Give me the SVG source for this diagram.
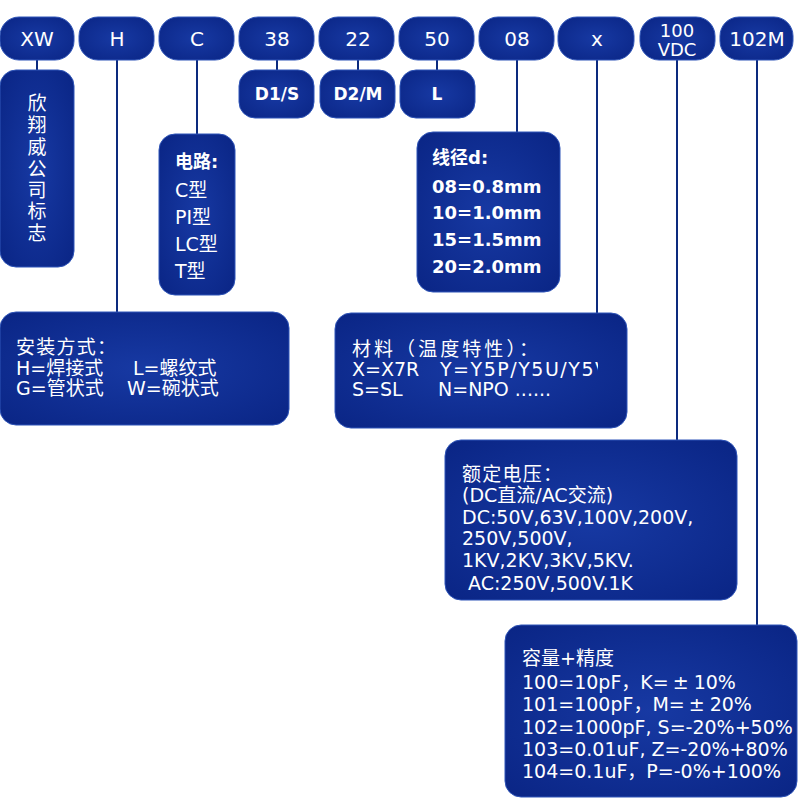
<svg xmlns="http://www.w3.org/2000/svg" width="800" height="800" viewBox="0 0 800 800">
<defs>
<radialGradient id="g" cx="50%" cy="50%" r="70%">
<stop offset="0" stop-color="#1739a3"/>
<stop offset="1" stop-color="#0a2585"/>
</radialGradient>
<clipPath id="clipY"><rect x="330" y="350" width="268" height="30"/></clipPath>
</defs>
<style>
.b{fill:url(#g);stroke:#2f55b8;stroke-width:1}
.t{fill:#fff;font-family:"DejaVu Sans","Noto Sans CJK SC",sans-serif}
.h{font-size:20px;text-anchor:middle}
.s{font-size:17px;font-weight:bold;text-anchor:middle}
.m{font-size:19px}
.bd{font-size:18px;font-weight:bold}
.c line{stroke:#0c2a7e;stroke-width:2}
</style>
<rect width="800" height="800" fill="#fff"/>
<g class="c">
<line x1="37" y1="60" x2="37" y2="70"/>
<line x1="117" y1="60" x2="117" y2="313"/>
<line x1="197" y1="60" x2="197" y2="134"/>
<line x1="277" y1="60" x2="277" y2="70"/>
<line x1="358" y1="60" x2="358" y2="70"/>
<line x1="437" y1="60" x2="437" y2="70"/>
<line x1="517" y1="60" x2="517" y2="132"/>
<line x1="597" y1="60" x2="597" y2="313"/>
<line x1="677" y1="60" x2="677" y2="440"/>
<line x1="757" y1="60" x2="757" y2="625"/>
</g>
<g id="n-xw"><rect class="b" x="0" y="17" width="74" height="43" rx="19"/><text class="t h" x="37" y="46">XW</text></g>
<g id="n-h"><rect class="b" x="79" y="17" width="75" height="43" rx="19"/><text class="t h" x="117" y="46">H</text></g>
<g id="n-c"><rect class="b" x="159" y="17" width="75" height="43" rx="19"/><text class="t h" x="197" y="46">C</text></g>
<g id="n-38"><rect class="b" x="239" y="17" width="75" height="43" rx="19"/><text class="t h" x="277" y="46">38</text></g>
<g id="n-22"><rect class="b" x="319" y="17" width="75" height="43" rx="19"/><text class="t h" x="358" y="46">22</text></g>
<g id="n-50"><rect class="b" x="399" y="17" width="75" height="43" rx="19"/><text class="t h" x="437" y="46">50</text></g>
<g id="n-08"><rect class="b" x="479" y="17" width="75" height="43" rx="19"/><text class="t h" x="517" y="46">08</text></g>
<g id="n-x"><rect class="b" x="558" y="17" width="76" height="43" rx="19"/><text class="t h" x="597" y="46">x</text></g>
<g id="n-vdc"><rect class="b" x="640" y="17" width="75" height="43" rx="19"/><text class="t" x="677" y="37" font-size="18" text-anchor="middle">100</text><text class="t" x="677" y="56" font-size="18" text-anchor="middle">VDC</text></g>
<g id="n-102m"><rect class="b" x="720" y="17" width="73" height="43" rx="19"/><text class="t h" x="757" y="46">102M</text></g>

<g id="n-d1s"><rect class="b" x="239" y="70" width="75" height="48" rx="16"/><text class="t s" x="277" y="100">D1/S</text></g>
<g id="n-d2m"><rect class="b" x="320" y="70" width="75" height="48" rx="16"/><text class="t s" x="358" y="100">D2/M</text></g>
<g id="n-l"><rect class="b" x="400" y="70" width="75" height="48" rx="16"/><text class="t s" x="437" y="100">L</text></g>

<g id="n-logo"><rect class="b" x="0" y="70" width="74" height="197" rx="16"/>
<text class="t m" text-anchor="middle"><tspan x="37" y="110">欣</tspan><tspan x="37" y="132">翔</tspan><tspan x="37" y="154">威</tspan><tspan x="37" y="176">公</tspan><tspan x="37" y="197">司</tspan><tspan x="37" y="218">标</tspan><tspan x="37" y="240">志</tspan></text></g>

<g id="n-circuit"><rect class="b" x="159" y="134" width="76" height="161" rx="16"/>
<text class="t bd" x="175" y="168">电路:</text>
<text class="t m" x="175" y="197">C型</text>
<text class="t m" x="175" y="224">PI型</text>
<text class="t m" x="175" y="251">LC型</text>
<text class="t m" x="175" y="278">T型</text></g>

<g id="n-mount"><rect class="b" x="0" y="312" width="289" height="113" rx="16"/>
<text class="t m" x="16" y="354" textLength="100" lengthAdjust="spacing">安装方式：</text>
<text class="t m" x="16" y="375">H=焊接式</text><text class="t m" x="133" y="375">L=螺纹式</text>
<text class="t m" x="16" y="395">G=管状式</text><text class="t m" x="127" y="395">W=碗状式</text></g>

<g id="n-wire"><rect class="b" x="417" y="132" width="143" height="160" rx="16"/>
<text class="t bd" x="432" y="164">线径d:</text>
<text class="t bd" x="432" y="193">08=0.8mm</text>
<text class="t bd" x="432" y="219">10=1.0mm</text>
<text class="t bd" x="432" y="246">15=1.5mm</text>
<text class="t bd" x="432" y="273">20=2.0mm</text></g>

<g id="n-material"><rect class="b" x="335" y="313" width="292" height="115" rx="16"/>
<text class="t m" x="352" y="356" textLength="186" lengthAdjust="spacing">材料（温度特性）：</text>
<text class="t m" x="352" y="376">X=X7R</text><text class="t m" x="440" y="376" clip-path="url(#clipY)" textLength="168" lengthAdjust="spacing">Y=Y5P/Y5U/Y5V</text>
<text class="t m" x="352" y="396">S=SL</text><text class="t m" x="438" y="396">N=NPO ......</text></g>

<g id="n-voltage"><rect class="b" x="445" y="440" width="292" height="160" rx="16"/>
<text class="t m" x="462" y="481" textLength="100" lengthAdjust="spacing">额定电压：</text>
<text class="t m" x="462" y="502">(DC直流/AC交流)</text>
<text class="t m" x="462" y="524">DC:50V,63V,100V,200V,</text>
<text class="t m" x="462" y="545">250V,500V,</text>
<text class="t m" x="462" y="567">1KV,2KV,3KV,5KV.</text>
<text class="t m" x="468" y="590">AC:250V,500V.1K</text></g>

<g id="n-cap"><rect class="b" x="505" y="625" width="292" height="172" rx="16"/>
<text class="t m" x="522" y="665">容量+精度</text>
<text class="t m" x="522" y="689">100=10pF，K=<tspan dx="4">±</tspan><tspan dx="5">10%</tspan></text>
<text class="t m" x="522" y="711">101=100pF，M=<tspan dx="4">±</tspan><tspan dx="5">20%</tspan></text>
<text class="t m" x="522" y="734">102=1000pF, S=-20%+50%</text>
<text class="t m" x="522" y="756">103=0.01uF, Z=-20%+80%</text>
<text class="t m" x="522" y="778">104=0.1uF，P=-0%+100%</text></g>
</svg>
